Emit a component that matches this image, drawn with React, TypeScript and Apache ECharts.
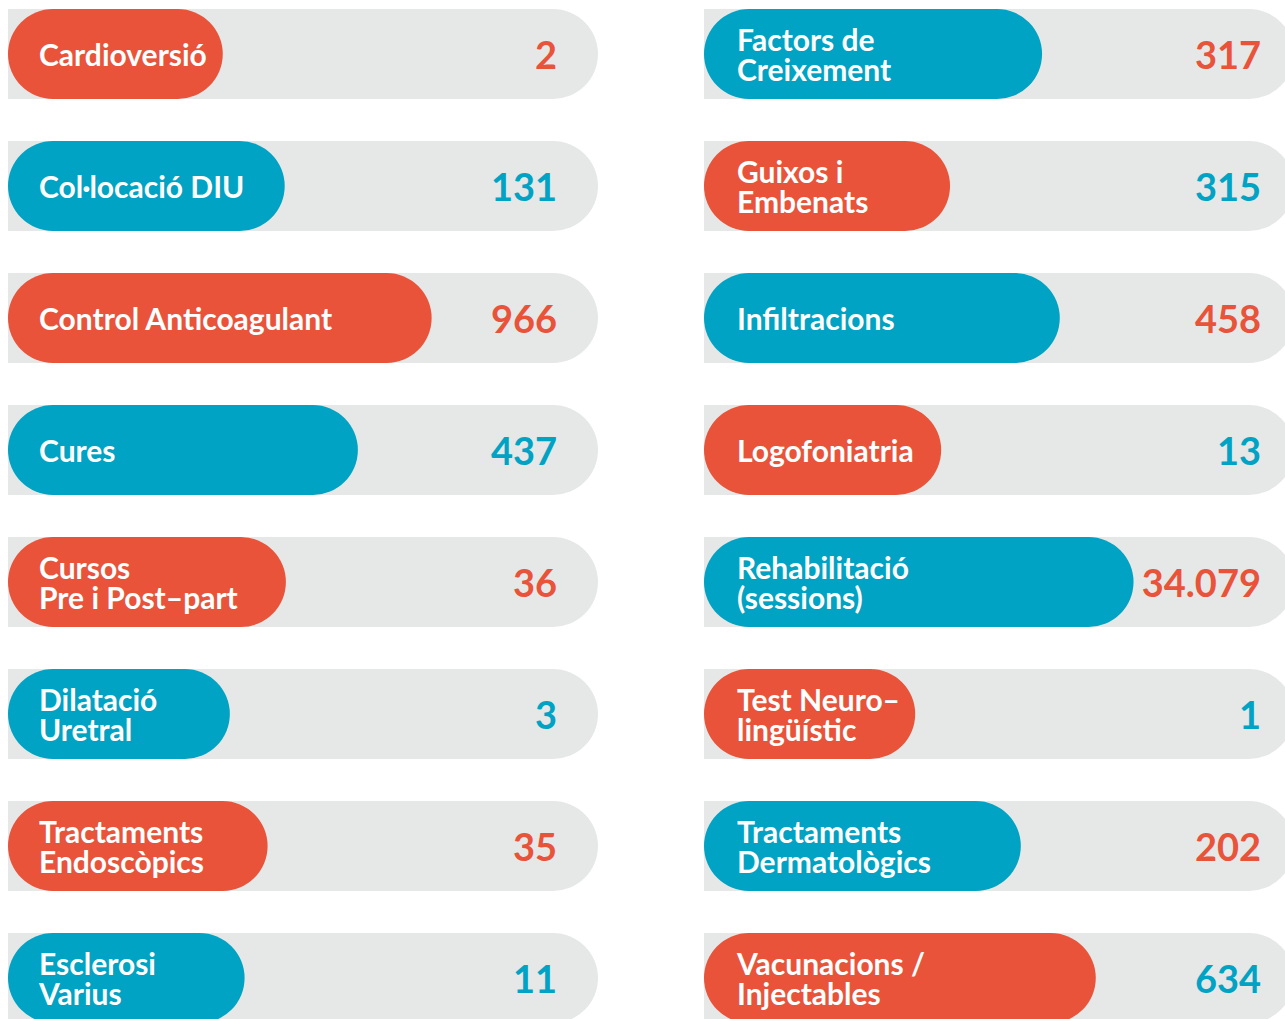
import React, { useEffect, useRef } from "react";
import * as echarts from "echarts";

// ---- data ----
const leftCategories = [
  "Cardioversió",
  "Col·locació DIU",
  "Control Anticoagulant",
  "Cures",
  "Cursos\nPre i Post–part",
  "Dilatació\nUretral",
  "Tractaments\nEndoscòpics",
  "Esclerosi\nVarius",
];
const leftValues = [2, 131, 966, 437, 36, 3, 35, 11];
// filled share of each pill (percent of track)
const leftFill = [36.4, 46.9, 71.8, 59.3, 47.1, 37.6, 44.0, 40.1];

const rightCategories = [
  "Factors de\nCreixement",
  "Guixos i\nEmbenats",
  "Infiltracions",
  "Logofoniatria",
  "Rehabilitació\n(sessions)",
  "Test Neuro–\nlingüístic",
  "Tractaments\nDermatològics",
  "Vacunacions /\nInjectables",
];
const rightValues = [317, 315, 458, 13, 34079, 1, 202, 634];
const rightFill = [57.3, 41.7, 60.3, 40.2, 72.8, 35.8, 53.7, 66.4];

const trackMax = 100;

// ---- styles ----
const RED = "#E8533A";
const BLUE = "#00A3C3";
const GRAY = "#E6E7E7";
const FONT = "Lato";

const fmt = (v: number) => String(v).replace(/\B(?=(\d{3})+(?!\d))/g, ".");

function buildColumn(
  idx: number,
  categories: string[],
  values: number[],
  fill: number[],
  firstColor: string,
  otherColor: string,
  valueSame: boolean,
  labelDist: number,
  valueDist: number
) {
  const barColor = (i: number) => (i % 2 === 0 ? firstColor : otherColor);
  const valColor = (i: number) =>
    valueSame ? barColor(i) : barColor(i) === RED ? BLUE : RED;
  return [
    {
      type: "bar",
      name: "track" + idx,
      xAxisIndex: idx,
      yAxisIndex: idx,
      barWidth: 90,
      silent: true,
      z: 1,
      data: categories.map((_, i) => ({
        value: trackMax,
        itemStyle: { color: GRAY, borderRadius: [0, 45, 45, 0] },
        label: {
          show: true,
          position: "insideRight",
          distance: valueDist,
          formatter: fmt(values[i]),
          color: valColor(i),
          fontFamily: FONT,
          fontWeight: 700,
          fontSize: 38,
        },
      })),
    },
    {
      type: "bar",
      name: "fill" + idx,
      xAxisIndex: idx,
      yAxisIndex: idx,
      barWidth: 90,
      barGap: "-100%",
      silent: true,
      z: 2,
      data: fill.map((v, i) => ({
        value: v,
        itemStyle: { color: barColor(i), borderRadius: 45 },
      })),
      label: {
        show: true,
        position: "insideLeft",
        distance: labelDist,
        formatter: (p: any) => categories[p.dataIndex],
        color: "#ffffff",
        fontFamily: FONT,
        fontWeight: 700,
        fontSize: 30,
        lineHeight: 30,
        textBorderWidth: 0,
      },
    },
  ];
}

export default function App() {
  const ref = useRef<HTMLDivElement>(null);
  useEffect(() => {
    if (!ref.current) return;
    const chart = echarts.init(ref.current, undefined, { renderer: "svg" });
    const grids = [
      { left: 8, top: -12, width: 590, height: 1056 },
      { left: 704, top: -12, width: 590, height: 1056 },
    ];
    chart.setOption({
      animation: false,
      backgroundColor: "#ffffff",
      grid: grids.map((g) => ({ ...g, containLabel: false, outerBoundsMode: "none" })),
      xAxis: [0, 1].map((i) => ({
        type: "value",
        gridIndex: i,
        min: 0,
        max: trackMax,
        show: false,
      })),
      yAxis: [
        { type: "category", gridIndex: 0, inverse: true, data: leftCategories, show: false },
        { type: "category", gridIndex: 1, inverse: true, data: rightCategories, show: false },
      ],
      series: [
        ...buildColumn(0, leftCategories, leftValues, leftFill, RED, BLUE, true, 31, 41),
        ...buildColumn(1, rightCategories, rightValues, rightFill, BLUE, RED, false, 33, 33),
      ],
    });
    return () => chart.dispose();
  }, []);
  return (
    <div
      ref={ref}
      style={{ position: "absolute", left: 0, top: 0, width: 1285, height: 1019 }}
    />
  );
}
